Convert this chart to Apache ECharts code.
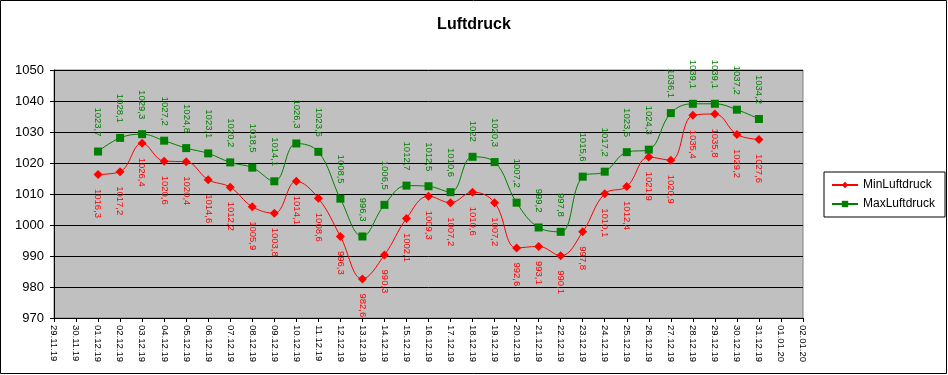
<!DOCTYPE html>
<html><head><meta charset="utf-8">
<script src="https://cdn.jsdelivr.net/npm/echarts@6/dist/echarts.min.js"></script>
<style>html,body{margin:0;padding:0;background:#fff}#c{width:948px;height:375px}</style>
</head><body><div id="c"></div>
<script>
const categories = ['29.11.19','30.11.19','01.12.19','02.12.19','03.12.19','04.12.19','05.12.19','06.12.19','07.12.19','08.12.19','09.12.19','10.12.19','11.12.19','12.12.19','13.12.19','14.12.19','15.12.19','16.12.19','17.12.19','18.12.19','19.12.19','20.12.19','21.12.19','22.12.19','23.12.19','24.12.19','25.12.19','26.12.19','27.12.19','28.12.19','29.12.19','30.12.19','31.12.19','01.01.20','02.01.20'];
const minLuftdruck = ['-','-',1016.3,1017.2,1026.4,1020.6,1020.4,1014.6,1012.2,1005.9,1003.8,1014.1,1008.6,996.3,982.6,990.3,1002.1,1009.3,1007.2,1010.6,1007.2,992.6,993.1,990.1,997.8,1010.1,1012.4,1021.9,1020.9,1035.4,1035.8,1029.2,1027.6,'-','-'];
const maxLuftdruck = ['-','-',1023.7,1028.1,1029.3,1027.2,1024.8,1023.1,1020.2,1018.5,1014.1,1026.3,1023.6,1008.5,996.3,1006.5,1012.7,1012.5,1010.6,1022,1020.3,1007.2,999.2,997.8,1015.6,1017.2,1023.5,1024.3,1036.1,1039.1,1039.1,1037.2,1034.2,'-','-'];
const yTicks = {min: 970, max: 1050, interval: 10};

const fmt = p => String(p.value).replace('.', ',');
const chart = echarts.init(document.getElementById('c'), null, {renderer: 'canvas'});
chart.setOption({
  animation: false,
  backgroundColor: '#fff',
  textStyle: {fontFamily: 'Liberation Sans, Arial, sans-serif'},
  title: {text: 'Luftdruck', left: 'center', top: 12, textStyle: {fontSize: 16, fontWeight: 'bold', color: '#000', fontFamily: 'Liberation Sans, Arial, sans-serif'}},
  graphic: [{type: 'rect', shape: {x: 0.5, y: 0.5, width: 946, height: 373}, style: {fill: 'none', stroke: '#000', lineWidth: 1}, silent: true}],
  legend: {
    orient: 'vertical', left: 824, top: 172, borderColor: '#000', borderWidth: 1,
    padding: [7, 10, 7, 7], itemGap: 7, itemWidth: 26, itemHeight: 8,
    textStyle: {fontSize: 12, color: '#000'},
    data: ['MinLuftdruck', 'MaxLuftdruck']
  },
  grid: {left: 54, right: 145, top: 70, bottom: 57, show: true, backgroundColor: '#C0C0C0', borderColor: '#808080', borderWidth: 1},
  xAxis: {
    type: 'category', data: categories, boundaryGap: false,
    axisLine: {lineStyle: {color: '#000'}},
    axisTick: {show: true, length: 4, interval: 0, lineStyle: {color: '#000'}},
    axisLabel: {rotate: -90, interval: 0, fontSize: 9.5, color: '#000', margin: 7},
    splitLine: {show: false}
  },
  yAxis: {
    type: 'value', min: yTicks.min, max: yTicks.max, interval: yTicks.interval,
    axisLine: {show: true, lineStyle: {color: '#000'}},
    axisTick: {show: true, length: 4, lineStyle: {color: '#000'}},
    axisLabel: {fontSize: 13, color: '#000', margin: 10, formatter: v => String(v)},
    splitLine: {lineStyle: {color: '#000', width: 1}}
  },
  series: [
    {name: 'MinLuftdruck', type: 'line', data: minLuftdruck, smooth: 0.4,
     symbol: 'diamond', symbolSize: 9, itemStyle: {color: '#FF0000'}, lineStyle: {color: '#FF0000', width: 1},
     label: {show: true, position: 'bottom', rotate: -90, align: 'left', verticalAlign: 'middle', distance: 10, fontSize: 9.5, color: '#FF0000', formatter: fmt}},
    {name: 'MaxLuftdruck', type: 'line', data: maxLuftdruck, smooth: 0.4,
     symbol: 'rect', symbolSize: 8, itemStyle: {color: '#008000'}, lineStyle: {color: '#008000', width: 1},
     label: {show: true, position: 'top', rotate: -90, align: 'right', verticalAlign: 'middle', distance: 11, fontSize: 9.5, color: '#008000', formatter: fmt}}
  ]
});
</script></body></html>
